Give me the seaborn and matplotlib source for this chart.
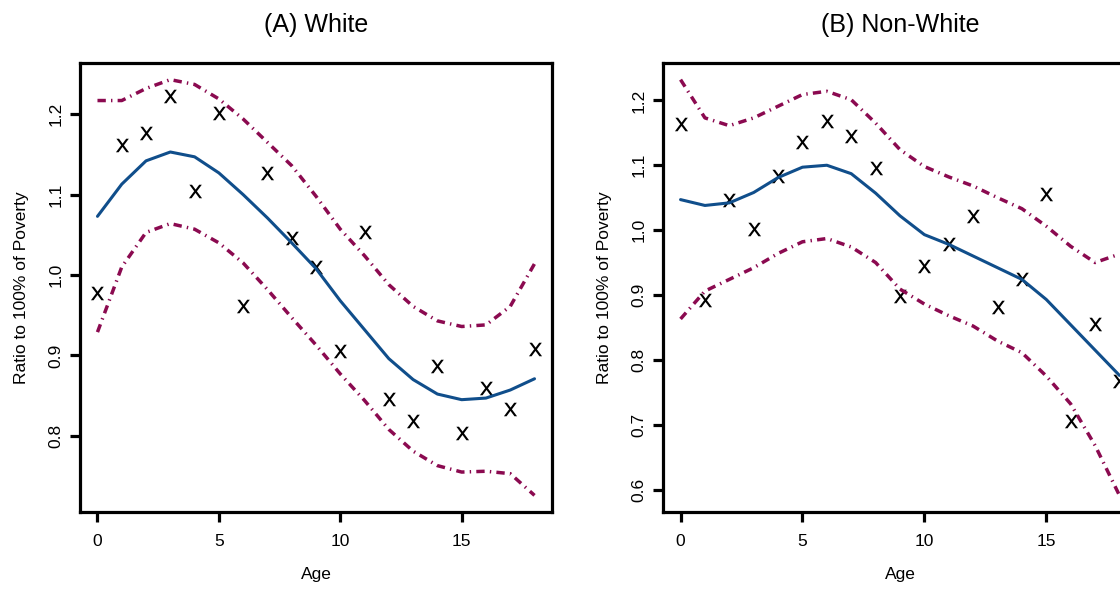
import numpy as np
import pandas as pd
import seaborn as sns
import matplotlib
matplotlib.use("Agg")
import matplotlib.pyplot as plt

ages = list(range(19))

# (A) White
white_obs = [0.978, 1.162, 1.177, 1.223, 1.105, 1.201, 0.961, 1.127, 1.046, 1.010,
             0.905, 1.053, 0.846, 0.819, 0.887, 0.803, 0.860, 0.833, 0.908]
white_fit = [1.073, 1.113, 1.142, 1.153, 1.147, 1.127, 1.100, 1.071, 1.040, 1.008,
             0.968, 0.932, 0.896, 0.870, 0.852, 0.845, 0.847, 0.857, 0.871]
white_upper = [1.217, 1.217, 1.232, 1.243, 1.237, 1.219, 1.194, 1.165, 1.136, 1.098,
               1.057, 1.024, 0.988, 0.961, 0.943, 0.936, 0.938, 0.961, 1.014]
white_lower = [0.929, 1.010, 1.053, 1.064, 1.057, 1.040, 1.015, 0.982, 0.947, 0.913,
               0.877, 0.844, 0.808, 0.781, 0.763, 0.755, 0.756, 0.753, 0.726]

# (B) Non-White
nonwhite_obs = [1.164, 0.892, 1.047, 1.001, 1.083, 1.136, 1.168, 1.145, 1.096, 0.898,
                0.944, 0.978, 1.022, 0.882, 0.925, 1.056, 0.705, 0.855, 0.768]
nonwhite_fit = [1.047, 1.038, 1.042, 1.058, 1.081, 1.097, 1.100, 1.087, 1.057, 1.022,
                0.993, 0.978, 0.960, 0.942, 0.924, 0.893, 0.854, 0.815, 0.776]
nonwhite_upper = [1.232, 1.173, 1.161, 1.173, 1.191, 1.209, 1.214, 1.201, 1.165, 1.124,
                  1.098, 1.082, 1.068, 1.050, 1.033, 1.006, 0.975, 0.950, 0.963]
nonwhite_lower = [0.863, 0.906, 0.924, 0.942, 0.964, 0.982, 0.987, 0.974, 0.950, 0.909,
                  0.886, 0.868, 0.852, 0.829, 0.811, 0.775, 0.732, 0.668, 0.591]

titles = ["(A) White", "(B) Non-White"]
yticks = [[0.8, 0.9, 1.0, 1.1, 1.2], [0.6, 0.7, 0.8, 0.9, 1.0, 1.1, 1.2]]
xticks = [0, 5, 10, 15]

sns.set_theme(style="white")
plt.rcParams["font.family"] = ["Liberation Sans", "DejaVu Sans"]
plt.rcParams["text.color"] = "black"
plt.rcParams["axes.labelcolor"] = "black"

fit_color = "#104E8B"   # dodgerblue4
band_color = "#8B0A50"  # deeppink4
dotdash = (0, (2.4, 1.5, 0.4, 1.5))

fig = plt.figure(figsize=(11.2, 5.91), dpi=100)
ax_a = fig.add_axes([80 / 1120, 79 / 591, 472 / 1120, 449 / 591])
ax_b = fig.add_axes([663 / 1120, 79 / 591, 474 / 1120, 449 / 591])

panels = [
    (ax_a, white_obs, white_fit, white_upper, white_lower),
    (ax_b, nonwhite_obs, nonwhite_fit, nonwhite_upper, nonwhite_lower),
]

for i, (ax, obs, fit, up, lo) in enumerate(panels):
    df = pd.DataFrame({"age": ages, "obs": obs, "fit": fit, "upper": up, "lower": lo})

    sns.lineplot(data=df, x="age", y="upper", ax=ax, color=band_color,
                 linewidth=2.5, linestyle=dotdash)
    sns.lineplot(data=df, x="age", y="lower", ax=ax, color=band_color,
                 linewidth=2.5, linestyle=dotdash)
    sns.lineplot(data=df, x="age", y="fit", ax=ax, color=fit_color, linewidth=2.2)
    sns.scatterplot(data=df, x="age", y="obs", ax=ax, marker=r"$\mathsf{x}$",
                    s=95, color="black", linewidth=0)

    # R-style 4% axis padding
    xr = max(ages) - min(ages)
    ax.set_xlim(min(ages) - 0.04 * xr, max(ages) + 0.04 * xr)
    ymin, ymax = min(lo), max(up)
    yr = ymax - ymin
    ax.set_ylim(ymin - 0.04 * yr, ymax + 0.04 * yr)

    ax.set_xticks(xticks)
    ax.set_xticklabels([str(t) for t in xticks])
    ax.set_yticks(yticks[i])
    ax.set_yticklabels([f"{t:.1f}" for t in yticks[i]], rotation=90, va="center")

    for sp in ax.spines.values():
        sp.set_visible(True)
        sp.set_color("black")
        sp.set_linewidth(2.3)
    ax.tick_params(axis="both", direction="out", length=7, width=2.3,
                   color="black", labelsize=12.5, labelcolor="black",
                   left=True, bottom=True)
    ax.tick_params(axis="x", pad=9)
    ax.tick_params(axis="y", pad=5)

    ax.set_xlabel("Age", fontsize=12.5, labelpad=13)
    ax.set_ylabel("Ratio to 100% of Poverty", fontsize=12.5, labelpad=14)
    ax.set_title(titles[i], fontsize=18, pad=22, color="black")

fig.savefig("out.png", dpi=100)
